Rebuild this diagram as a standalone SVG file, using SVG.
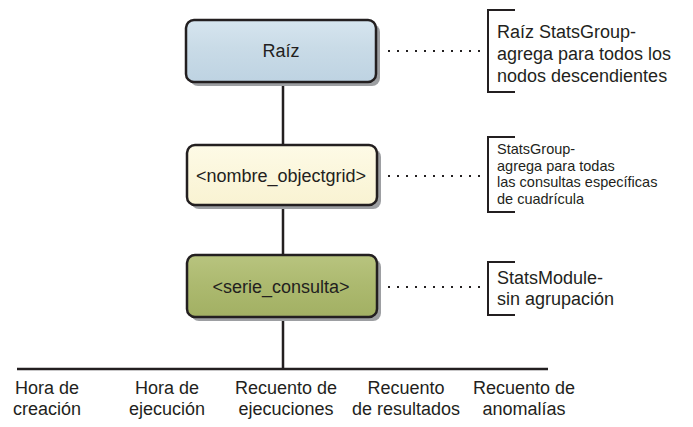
<svg xmlns="http://www.w3.org/2000/svg" width="693" height="427" viewBox="0 0 693 427">
<style>
text{font-family:"Liberation Sans",Arial,sans-serif;fill:#231f20}
.t{font-size:18px}
.s{font-size:14.5px}
.box{stroke:#231f20;stroke-width:2.5}
.sh{fill:#9d9fa2}
.ln{stroke:#231f20;stroke-width:2.5;fill:none}
.dot{stroke:#231f20;stroke-width:2;stroke-dasharray:2 7;fill:none}
.br{stroke:#231f20;stroke-width:2;fill:none}
</style>
<defs>
<linearGradient id="gb" x1="0" y1="0" x2="0" y2="1"><stop offset="0" stop-color="#d6e5ef"/><stop offset="0.45" stop-color="#c9dbe7"/><stop offset="1" stop-color="#bed3e2"/></linearGradient>
<linearGradient id="gy" x1="0" y1="0" x2="0" y2="1"><stop offset="0" stop-color="#fdfae6"/><stop offset="1" stop-color="#f9f3d2"/></linearGradient>
<linearGradient id="gg" x1="0" y1="0" x2="0" y2="1"><stop offset="0" stop-color="#b8c47f"/><stop offset="0.45" stop-color="#adba70"/><stop offset="1" stop-color="#a2b063"/></linearGradient>
</defs>
<g id="connectors">
<line class="ln" x1="283" y1="82" x2="283" y2="369"/>
<line class="ln" x1="17" y1="369" x2="548" y2="369"/>
<line class="dot" x1="388" y1="51" x2="482" y2="51"/>
<line class="dot" x1="388" y1="176" x2="482" y2="176"/>
<line class="dot" x1="388" y1="287" x2="482" y2="287"/>
</g>
<g id="root">
<rect class="sh" x="190" y="24" width="190" height="62" rx="8"/>
<rect class="box" x="186" y="20" width="190" height="62" rx="8" fill="url(#gb)"/>
<text class="t" x="281" y="57" text-anchor="middle">Raíz</text>
</g>
<g id="objectgrid">
<rect class="sh" x="191" y="149" width="190" height="60" rx="8"/>
<rect class="box" x="187" y="145" width="190" height="60" rx="8" fill="url(#gy)"/>
<text class="t" x="281" y="182" text-anchor="middle">&lt;nombre_objectgrid&gt;</text>
</g>
<g id="serie">
<rect class="sh" x="191" y="259" width="190" height="62" rx="8"/>
<rect class="box" x="187" y="255" width="190" height="62" rx="8" fill="url(#gg)"/>
<text class="t" x="281" y="293" text-anchor="middle">&lt;serie_consulta&gt;</text>
</g>
<g id="note1">
<path class="br" d="M515,10 H488 V92 H515"/>
<text class="t" x="497" y="38">Raíz StatsGroup-</text>
<text class="t" x="497" y="60">agrega para todos los</text>
<text class="t" x="497" y="82">nodos descendientes</text>
</g>
<g id="note2">
<path class="br" d="M515,137 H488 V212 H515"/>
<text class="s" x="497" y="154">StatsGroup-</text>
<text class="s" x="497" y="170.5">agrega para todas</text>
<text class="s" x="497" y="187">las consultas específicas</text>
<text class="s" x="497" y="203.5">de cuadrícula</text>
</g>
<g id="note3">
<path class="br" d="M515,262 H488 V315 H515"/>
<text class="t" x="497" y="284">StatsModule-</text>
<text class="t" x="497" y="305">sin agrupación</text>
</g>
<g id="leaf1"><text class="t" text-anchor="middle"><tspan x="47" y="394">Hora de</tspan><tspan x="47" y="415">creación</tspan></text></g>
<g id="leaf2"><text class="t" text-anchor="middle"><tspan x="167" y="394">Hora de</tspan><tspan x="167" y="415">ejecución</tspan></text></g>
<g id="leaf3"><text class="t" text-anchor="middle"><tspan x="286" y="394">Recuento de</tspan><tspan x="286" y="415">ejecuciones</tspan></text></g>
<g id="leaf4"><text class="t" text-anchor="middle"><tspan x="406" y="394">Recuento</tspan><tspan x="406" y="415">de resultados</tspan></text></g>
<g id="leaf5"><text class="t" text-anchor="middle"><tspan x="524" y="394">Recuento de</tspan><tspan x="524" y="415">anomalías</tspan></text></g>
</svg>
